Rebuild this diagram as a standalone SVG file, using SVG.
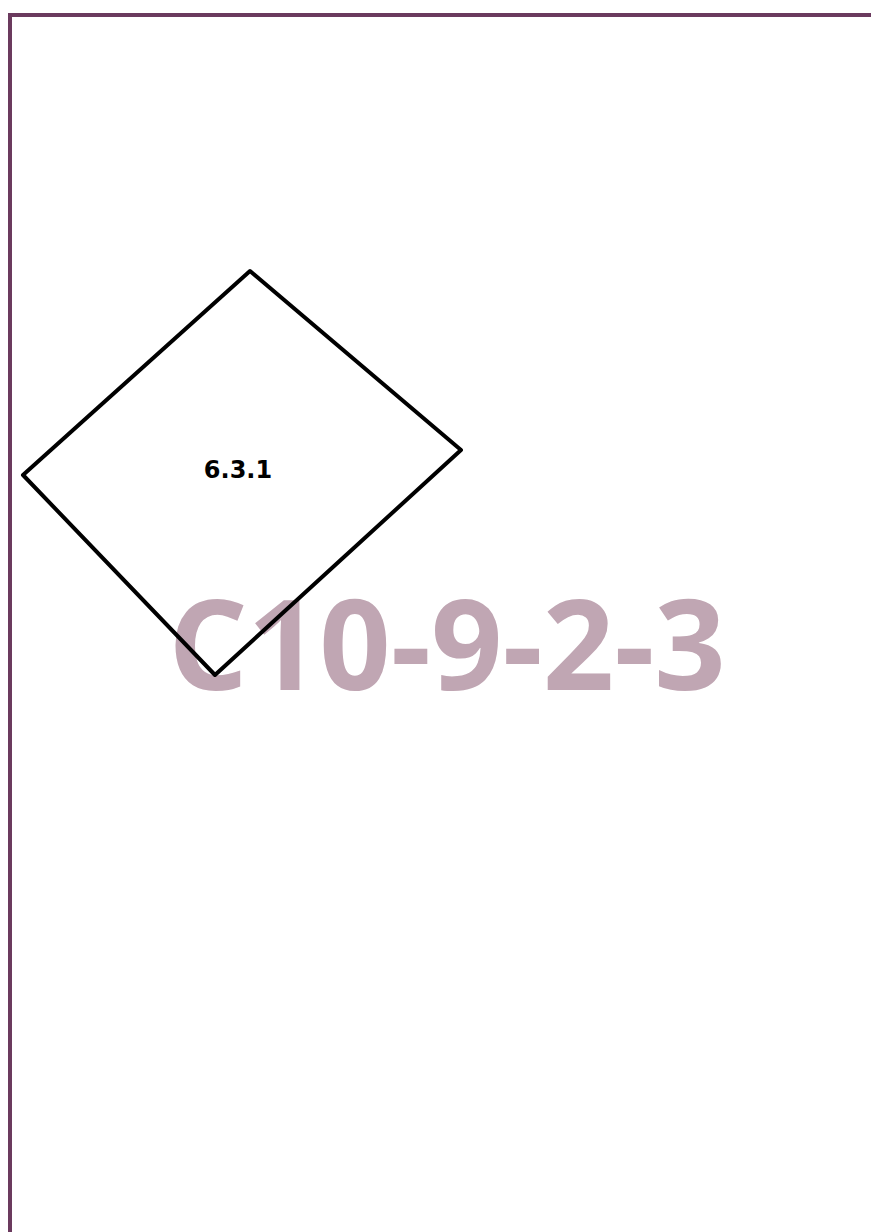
<svg xmlns="http://www.w3.org/2000/svg" width="871" height="1232" viewBox="0 0 871 1232">
<style>
.border{stroke:#6b3a5e;stroke-width:4;fill:none}
.shape{stroke:#000;stroke-width:4;fill:none;stroke-linejoin:round}
.label{font-family:"DejaVu Sans",Verdana,sans-serif;font-weight:bold;font-size:24px;fill:#000}
.wm{font-family:"Open Sans","Noto Sans",sans-serif;font-weight:bold;font-size:125px;fill:#c0a6b3}
</style>
<rect width="871" height="1232" fill="#fff"/>
<g id="watermark"><text class="wm" x="447" y="690" text-anchor="middle">C10-9-2-3</text></g>
<g id="frame"><path class="border" d="M10 1232 V15 H871"/></g>
<g id="node-6.3.1">
<polygon class="shape" points="250,271 461,450 215,675 23,475"/>
<text class="label" x="238" y="478" text-anchor="middle">6.3.1</text>
</g>
<g id="connectors"></g>
</svg>
